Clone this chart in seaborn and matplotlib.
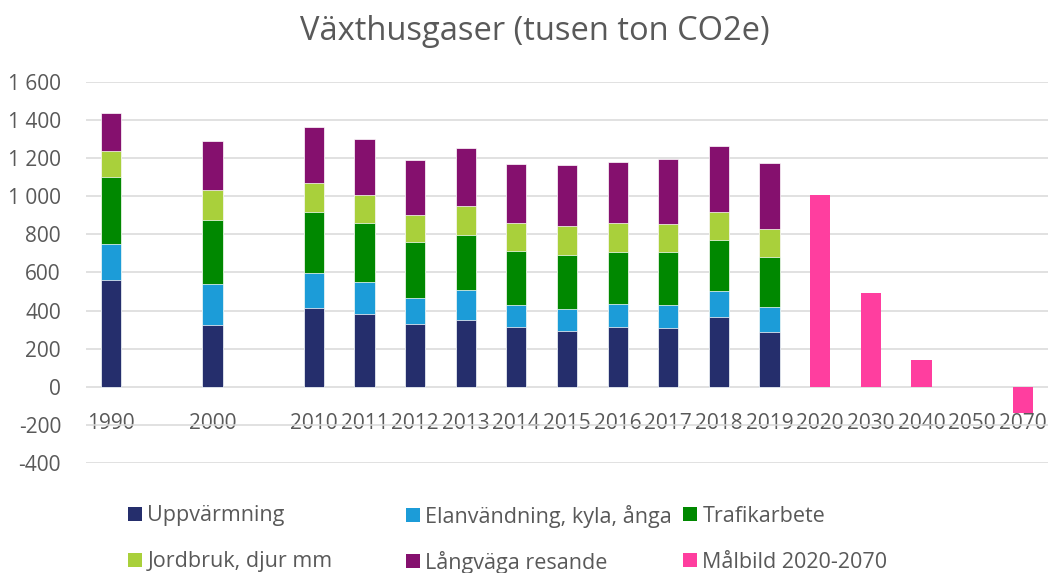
import numpy as np
import pandas as pd
import matplotlib
matplotlib.use("Agg")
import matplotlib.pyplot as plt
import seaborn as sns
from matplotlib.ticker import FuncFormatter, MultipleLocator
from matplotlib.patches import Patch

# ---------------- data ----------------
categories = ["1990", "gap1", "2000", "gap2", "2010", "2011", "2012", "2013", "2014",
              "2015", "2016", "2017", "2018", "2019", "2020", "2030", "2040", "2050", "2070"]
hist_years = ["1990", "2000", "2010", "2011", "2012", "2013", "2014", "2015",
              "2016", "2017", "2018", "2019"]
uppvarmning = [560, 325, 412, 383, 328, 353, 314, 292, 316, 311, 367, 288]
elanvandning = [189, 214, 185, 168, 140, 155, 116, 117, 121, 117, 138, 129]
trafikarbete = [350, 335, 318, 310, 294, 287, 284, 283, 272, 278, 267, 266]
jordbruk = [140, 158, 153, 147, 141, 152, 145, 150, 150, 150, 145, 147]
langvaga = [199, 260, 294, 291, 288, 307, 313, 320, 320, 340, 348, 345]
target_years = ["2020", "2030", "2040", "2050", "2070"]
malbild = [1008, 494, 143, 0, -140]

series_names = ["Uppvärmning", "Elanvändning, kyla, ånga", "Trafikarbete",
                "Jordbruk, djur mm", "Långväga resande", "Målbild 2020-2070"]
colors = ["#252E6C", "#1C9CD8", "#008800", "#A9D03B", "#85106E", "#FF3E9F"]

# ---------------- style ----------------
sns.set_theme(style="white")
plt.rcParams["font.family"] = ["Open Sans", "DejaVu Sans"]
TXT = "#595959"

W, H = 1055, 573
fig = plt.figure(figsize=(W / 100, H / 100), dpi=100)
ax = fig.add_axes([86 / W, 1 - 463 / H, (1048 - 86) / W, (463 - 82) / H])

hist = pd.DataFrame({"year": hist_years,
                     series_names[0]: uppvarmning,
                     series_names[1]: elanvandning,
                     series_names[2]: trafikarbete,
                     series_names[3]: jordbruk,
                     series_names[4]: langvaga})
cum = hist[series_names[:5]].cumsum(axis=1)

# stacked bars: draw cumulative totals from the top layer down
for k in range(4, -1, -1):
    sns.barplot(x=hist["year"], y=cum[series_names[k]], order=categories,
                color=colors[k], saturation=1, width=0.4, errorbar=None,
                edgecolor="white", linewidth=0.5, ax=ax)

sns.barplot(x=target_years, y=malbild, order=categories, color=colors[5],
            saturation=1, width=0.4, errorbar=None, linewidth=0, ax=ax)

# ---------------- axes ----------------
ax.set_ylim(-400, 1600)
ax.set_xlim(-0.5, len(categories) - 0.5)
ax.yaxis.set_major_locator(MultipleLocator(200))
ax.yaxis.set_major_formatter(FuncFormatter(lambda v, p: f"{int(round(v)):,}".replace(",", " ")))
ax.grid(axis="y", color="#D9D9D9", linewidth=1.1)
ax.set_axisbelow(True)
for s in ax.spines.values():
    s.set_visible(False)
ax.spines["bottom"].set_position(("data", 0))
ax.set_xticks(range(len(categories)))
ax.set_xticklabels(["" if c.startswith("gap") else c for c in categories])
ax.tick_params(axis="x", length=0, pad=19, labelsize=15, labelcolor=TXT)
ax.tick_params(axis="y", length=0, pad=18, labelsize=15, labelcolor=TXT)
ax.set_xlabel("")
ax.set_ylabel("")

fig.text(0.507, 1 - 31 / H, "Växthusgaser (tusen ton CO2e)", ha="center", va="center",
         fontsize=23.5, color=TXT)

# ---------------- legend (Excel-like grid: 3 columns x 2 rows) ----------------
order = [0, 1, 2, 3, 4, 5]
col_x = [128, 406, 683]
row_y = [515, 561]
for i in order:
    r, c = divmod(i, 3)
    fig.legend([Patch(facecolor=colors[i], edgecolor="none")], [series_names[i]],
               loc="center left", bbox_to_anchor=(col_x[c] / W, 1 - (row_y[r] + 1) / H),
               frameon=False, fontsize=15.5, handlelength=0.65, handleheight=0.65,
               handletextpad=0.25, borderpad=0, borderaxespad=0, labelcolor=TXT)

fig.savefig("out.png", dpi=100)
